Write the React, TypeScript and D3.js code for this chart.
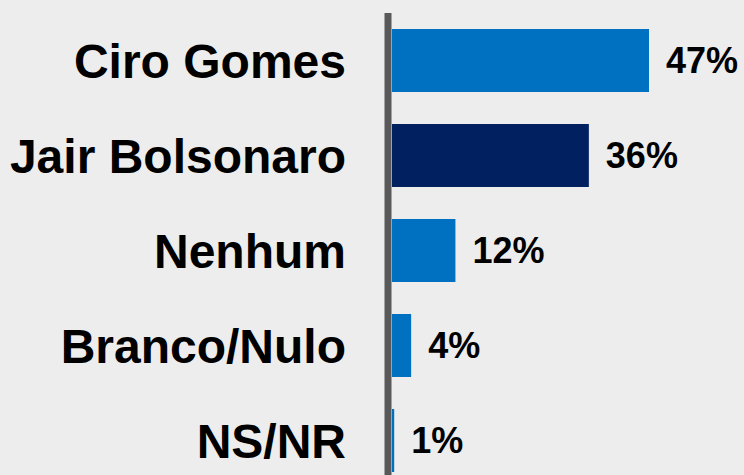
import { useRef, useEffect } from 'react'
import * as d3 from 'd3'

// Candidates and vote share (%)
const candidates = ['Ciro Gomes', 'Jair Bolsonaro', 'Nenhum', 'Branco/Nulo', 'NS/NR']
const shares = [47, 36, 11.6, 3.5, 0.4]
const shareLabels = ['47%', '36%', '12%', '4%', '1%']
const barColors = ['#0070C0', '#002060', '#0070C0', '#0070C0', '#0070C0']

const W = 744
const H = 475
const FONT = "'Liberation Sans', Arial, Helvetica, sans-serif"

export default function App() {
  const svgRef = useRef<SVGSVGElement | null>(null)

  useEffect(() => {
    const svg = d3.select(svgRef.current)
    svg.selectAll('*').remove()

    svg.append('rect').attr('width', W).attr('height', H).attr('fill', '#EDEDED')

    const x0 = 392
    const xScale = d3.scaleLinear().domain([0, 47]).range([x0, 649])
    const yScale = d3
      .scaleBand<string>()
      .domain(candidates)
      .range([13, 488])
      .paddingInner(0.337)
      .paddingOuter(0.1685)
    const bw = yScale.bandwidth()

    // Bars
    candidates.forEach((c, i) => {
      const y = yScale(c)!
      svg.append('rect')
        .attr('x', x0)
        .attr('y', y)
        .attr('width', xScale(shares[i]) - x0)
        .attr('height', bw)
        .attr('fill', barColors[i])

      // category label
      svg.append('text')
        .attr('x', 346)
        .attr('y', y + bw / 2)
        .attr('dy', '0.358em')
        .attr('text-anchor', 'end')
        .attr('font-family', FONT)
        .attr('font-weight', 'bold')
        .attr('font-size', '48px')
        .attr('fill', '#000')
        .text(c)

      // value label
      svg.append('text')
        .attr('x', xScale(shares[i]) + 17)
        .attr('y', y + bw / 2)
        .attr('dy', '0.358em')
        .attr('font-family', FONT)
        .attr('font-weight', 'bold')
        .attr('font-size', '36px')
        .attr('fill', '#000')
        .text(shareLabels[i])
    })

    // Vertical axis line
    svg.append('line')
      .attr('x1', 388)
      .attr('x2', 388)
      .attr('y1', 13)
      .attr('y2', H)
      .attr('stroke', '#595959')
      .attr('stroke-width', 7)
  }, [])

  return (
    <svg
      ref={svgRef}
      width={W}
      height={H}
      style={{ position: 'absolute', left: 0, top: 0, display: 'block' }}
    />
  )
}
